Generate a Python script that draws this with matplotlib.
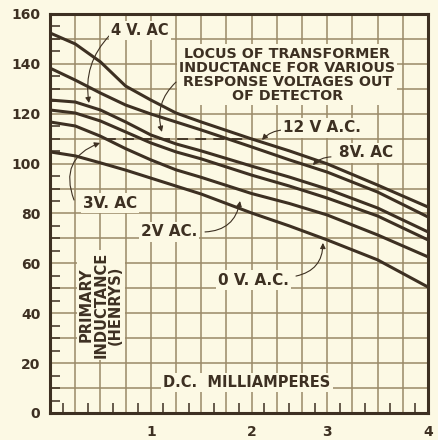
"""Primary inductance against D.C. milliamperes for several A.C. response levels."""

import matplotlib.pyplot as plt
import numpy as np

PAPER = "#fcf9e4"
INK = "#3d3022"
GRID = "#9a8a68"

# the milliampere scale is hand-ruled: 1, 2, 3, 4 mA fall on grid lines 4, 8, 11, 15
SCALE_MA = [0, 1, 2, 3, 4]
SCALE_GRID = [0, 4, 8, 11, 15]

ma = [0, 0.25, 0.5, 0.75, 1.0, 1.25, 1.5, 2.0, 2.5, 3.0, 3.5, 4.0]
henrys_12v = [152.4, 148.0, 140.8, 131.1, 125.5, 120.3, 116.7, 109.9, 105.1, 99.9, 91.4, 82.6]
henrys_8v = [138.3, 133.5, 128.3, 123.5, 119.9, 116.7, 113.5, 106.7, 101.5, 96.6, 88.6, 78.6]
henrys_4v = [125.5, 124.7, 121.5, 116.7, 111.5, 107.9, 105.1, 99.0, 94.6, 89.8, 82.2, 72.6]
henrys_3v = [121.5, 120.3, 117.1, 112.7, 108.3, 104.7, 101.9, 95.4, 91.0, 86.2, 79.0, 69.4]
henrys_2v = [116.7, 115.1, 111.0, 106.0, 101.5, 97.5, 94.5, 88.0, 84.0, 79.4, 71.4, 62.6]
henrys_0v = [104.7, 103.1, 100.3, 97.4, 94.2, 91.0, 87.8, 80.2, 75.0, 69.4, 61.4, 50.5]

locus_ma = [0.55, 2.0]
locus_henrys = [110.0, 110.0]

y_ticks = [0, 20, 40, 60, 80, 100, 120, 140, 160]
x_ticks = [1, 2, 3, 4]


def to_grid(x):
    x = np.asarray(x, dtype=float)
    g = np.interp(x, SCALE_MA, SCALE_GRID)
    g = np.where(x < 0, x * 4, g)
    return np.where(x > 4, 15 + (x - 4) * 4, g)


def to_ma(g):
    g = np.asarray(g, dtype=float)
    x = np.interp(g, SCALE_GRID, SCALE_MA)
    x = np.where(g < 0, g / 4, x)
    return np.where(g > 15, 4 + (g - 15) / 4, x)


def main() -> None:
    plt.rcParams["font.family"] = "DejaVu Sans"
    fig = plt.figure(figsize=(4.38, 4.40), dpi=100, facecolor=PAPER)
    ax = fig.add_axes([0.1142, 0.0614, 0.8630, 0.9068])
    ax.set_facecolor(PAPER)
    ax.set_xscale("function", functions=(to_grid, to_ma))
    ax.set_xlim(0, 4)
    ax.set_ylim(0, 160)

    # ruled graph paper
    for g in range(1, 15):
        ax.axvline(float(to_ma(g)), color=GRID, lw=1.1, zorder=1)
    for h in range(10, 160, 10):
        ax.axhline(h, color=GRID, lw=1.1, zorder=1)

    for series in (henrys_12v, henrys_8v, henrys_4v, henrys_3v, henrys_2v, henrys_0v):
        ax.plot(ma, series, color=INK, lw=2.2, solid_capstyle="butt", zorder=3)
    ax.plot(locus_ma, locus_henrys, color=INK, lw=1.3, dashes=(6, 4), zorder=3)

    for side in ax.spines.values():
        side.set_color(INK)
        side.set_linewidth(2.2)

    ax.set_xticks(x_ticks)
    ax.set_xticklabels([str(t) for t in x_ticks])
    ax.set_yticks(y_ticks)
    ax.tick_params(axis="both", which="major", length=0, labelsize=10, colors=INK)
    ax.tick_params(axis="x", pad=9)
    ax.tick_params(axis="y", pad=7)
    for lab in ax.get_xticklabels() + ax.get_yticklabels():
        lab.set_fontweight("bold")
    ax.set_xticks(to_ma(np.arange(0.5, 15, 1.0)), minor=True)
    ax.set_yticks(np.arange(5, 160, 5), minor=True)
    ax.tick_params(axis="both", which="minor", direction="in", length=7, width=1.1, color=INK)
    ax.tick_params(axis="x", which="minor", top=False)

    box = dict(facecolor=PAPER, edgecolor="none", pad=1.5)
    text_kw = dict(color=INK, fontweight="bold", ha="center", va="center", zorder=5, bbox=box)

    ax.text(0.893, 153.2, "4 V. AC", fontsize=10.5, **text_kw)
    ax.text(2.47, 135.7, "LOCUS OF TRANSFORMER\nINDUCTANCE FOR VARIOUS\nRESPONSE VOLTAGES OUT\nOF DETECTOR",
            fontsize=10.3, linespacing=1.0, **text_kw)
    ax.text(2.93, 114.3, "12 V A.C.", fontsize=11, **text_kw)
    ax.text(3.385, 104.3, "8V. AC", fontsize=11, **text_kw)
    ax.text(0.595, 84.2, "3V. AC", fontsize=11, **text_kw)
    ax.text(1.18, 72.6, "2V AC.", fontsize=11, **text_kw)
    ax.text(2.02, 53.3, "0 V. A.C.", fontsize=11, **text_kw)
    ax.text(1.955, 12.4, "D.C.  MILLIAMPERES", fontsize=10.5, **text_kw)
    ax.text(0.506, 43.3, "PRIMARY\nINDUCTANCE\n(HENRYS)", fontsize=10.5, rotation=90,
            linespacing=0.95, **text_kw)

    leaders = [
        ((0.595, 151.6), (0.387, 124.3), 0.25),
        ((1.25, 132.7), (1.11, 112.7), 0.3),
        ((2.417, 113.5), (2.137, 109.5), 0.2),
        ((3.0375, 102.7), (2.81, 99.4), 0.2),
        ((0.238, 85.4), (0.496, 108.3), -0.5),
        ((1.5375, 72.6), (1.885, 85.0), 0.4),
        ((2.587, 54.9), (2.943, 68.2), 0.4),
    ]
    for start, tip, rad in leaders:
        ax.annotate("", xy=tip, xytext=start, zorder=4,
                    arrowprops=dict(arrowstyle="-|>", color=INK, lw=0.8, mutation_scale=8,
                                    shrinkA=0, shrinkB=0,
                                    connectionstyle=f"arc3,rad={rad}"))

    fig.savefig("out.png", dpi=100, facecolor=PAPER)


if __name__ == "__main__":
    main()
